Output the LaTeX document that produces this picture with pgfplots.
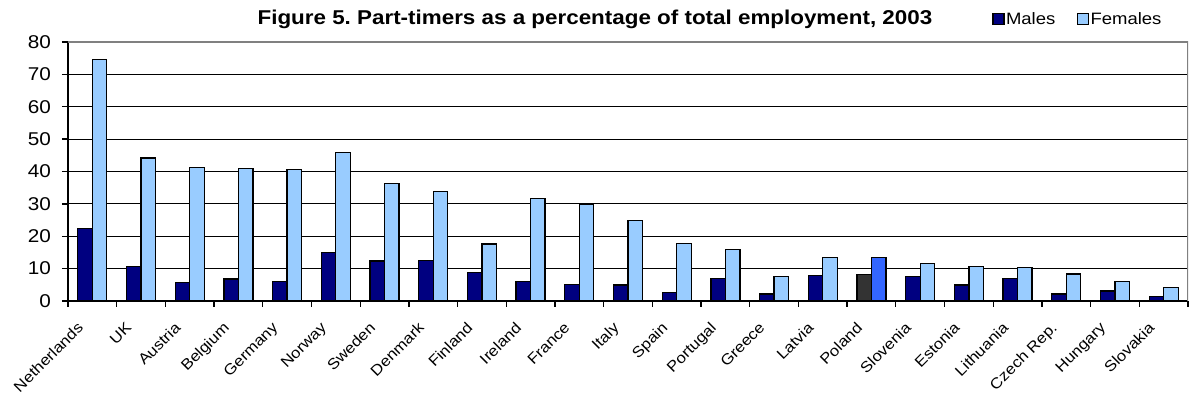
\documentclass[border=0pt]{standalone}
\usepackage{pgfplots}
\pgfplotsset{compat=1.18}
\usepackage{fontspec}
\setmainfont{Liberation Sans}[FakeStretch=1.12]
\frenchspacing

\definecolor{male}{HTML}{000080}
\definecolor{female}{HTML}{99CCFF}
\definecolor{plmale}{HTML}{333333}
\definecolor{plfemale}{HTML}{3366FF}
\definecolor{framegray}{HTML}{808080}

\begin{document}
\begin{tikzpicture}
\path[use as bounding box] (-68pt,-100pt) rectangle (1122pt,301pt);
\begin{axis}[
  at={(0,0)}, anchor=south west,
  scale only axis, width=1120pt, height=259pt,
  xmin=-0.5, xmax=22.5, ymin=0, ymax=80,
  ybar, bar width=14.5pt,
  axis x line*=bottom, axis y line*=left,
  axis line style={line width=1.6pt, black, -},
  tick align=outside,
  major tick length=6pt,
  tick style={black, line width=1.3pt},
  ytick={0,10,...,80},
  ymajorgrids, grid style={black, line width=1.2pt},
  xtick={-0.5,0.5,...,22.5},
  x tick label as interval,
  xticklabels={Netherlands, UK, Austria, Belgium, Germany, Norway, Sweden,
    Denmark, Finland, Ireland, France, Italy, Spain, Portugal, Greece,
    Latvia, Poland, Slovenia, Estonia, Lithuania, Czech Rep., Hungary, Slovakia},
  /pgf/number format/assume math mode=true,
  yticklabel style={font=\fontsize{18.5}{18.5}\selectfont, inner sep=0pt, xshift=-11pt},
  xticklabel style={font=\fontsize{15}{15}\selectfont, inner sep=0pt,
    xshift=-16pt, yshift=-14pt, rotate=45, anchor=north east},
  title={Figure 5. Part-timers as a percentage of total employment, 2003},
  title style={at={(axis description cs:0.4705,1)}, anchor=base, yshift=11pt,
    inner sep=0pt, font=\bfseries\fontsize{20}{20}\selectfont},
  legend style={at={(axis description cs:0.825,1)}, anchor=west, yshift=23pt,
    draw=none, fill=none, inner sep=0pt,
    font=\fontsize{16.5}{16.5}\selectfont,
    /tikz/every even column/.append style={column sep=20pt},
    nodes={inner sep=1.5pt}},
  legend columns=2,
  legend image code/.code={\draw[#1, draw=black, line width=1.3pt] (0pt,-5.5pt) rectangle (11pt,5.5pt);},
  every axis plot/.append style={draw=black, line width=1.3pt},
]
% Males
\addplot[fill=male, bar shift=-7.25pt] coordinates {
  (0,22.4) (1,10.6) (2,5.7) (3,6.8) (4,6.1) (5,14.9) (6,12.4) (7,12.5)
  (8,8.7) (9,6.0) (10,5.2) (11,4.9) (12,2.7) (13,7.0) (14,2.2) (15,7.8)
  (17,7.6) (18,4.9) (19,6.9) (20,2.2) (21,3.1) (22,1.4)};
% Females
\addplot[fill=female, bar shift=7.25pt] coordinates {
  (0,74.7) (1,44.2) (2,41.2) (3,40.9) (4,40.7) (5,45.8) (6,36.4) (7,33.9)
  (8,17.6) (9,31.7) (10,29.9) (11,24.8) (12,17.7) (13,16.0) (14,7.5) (15,13.4)
  (17,11.6) (18,10.6) (19,10.3) (20,8.3) (21,6.0) (22,4.2)};
% Poland, highlighted
\addplot[fill=plmale, bar shift=-7.25pt, forget plot] coordinates {(16,8.1)};
\addplot[fill=plfemale, bar shift=7.25pt, forget plot] coordinates {(16,13.4)};
\legend{Males, Females}
% grey frame on top and right of the plot area
\draw[framegray, line width=1.6pt] (rel axis cs:0,1) -- (rel axis cs:1,1) -- (rel axis cs:1,0);
\end{axis}
\end{tikzpicture}
\end{document}
